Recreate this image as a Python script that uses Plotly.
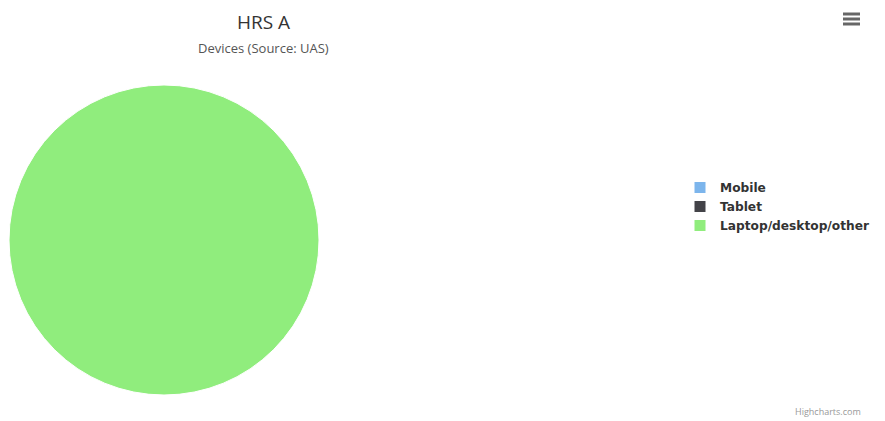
import plotly.graph_objects as go

labels = ["Mobile", "Tablet", "Laptop/desktop/other"]
values = [0, 0, 100]
colors = ["#7cb5ec", "#434348", "#90ed7d"]

# page has an 8px body margin; work in window coords and shift by OFF
OFF = 8
W, H = 885 - OFF, 421 - OFF
cx, cy, r = 164 - OFF, 240 - OFF, 155


def px(x):
    return (x - OFF) / W


def py(y):
    return 1 - (y - OFF) / H


fig = go.Figure(go.Pie(
    labels=labels, values=values, sort=False, direction="clockwise", rotation=0,
    marker=dict(colors=colors, line=dict(color="white", width=1)),
    textinfo="none", hoverinfo="label+percent",
    domain=dict(x=[(cx - r) / W, (cx + r) / W], y=[(H - cy - r) / H, (H - cy + r) / H]),
    showlegend=True,
))

fig.update_layout(
    width=W, height=H, margin=dict(l=0, r=0, t=0, b=0),
    paper_bgcolor="white", plot_bgcolor="white",
    font=dict(family="DejaVu Sans", color="#333333"),
    legend=dict(x=px(680), y=py(173), xanchor="left", yanchor="top",
                font=dict(size=12.2, color="#333333", family="DejaVu Sans", weight="bold"),
                itemclick=False, tracegroupgap=0),
    annotations=[
        dict(text="HRS A", x=px(263), y=1, xref="paper", yref="paper",
             showarrow=False, xanchor="center", yanchor="top", borderpad=0,
             font=dict(size=19, color="#333333", family="Open Sans")),
        dict(text="Devices (Source: UAS)", x=px(263), y=py(48), xref="paper", yref="paper",
             showarrow=False, xanchor="center", yanchor="middle",
             font=dict(size=13, color="#555555", family="Open Sans")),
        dict(text="Highcharts.com", x=px(863), y=py(411), xref="paper", yref="paper",
             showarrow=False, xanchor="right", yanchor="middle",
             font=dict(size=9, color="#999999", family="Open Sans")),
    ],
    shapes=[
        dict(type="line", xref="paper", yref="paper", x0=px(843), x1=px(860),
             y0=py(yy), y1=py(yy), line=dict(color="#666666", width=3))
        for yy in (14, 19, 24)
    ],
)

fig.write_html("out.html")
